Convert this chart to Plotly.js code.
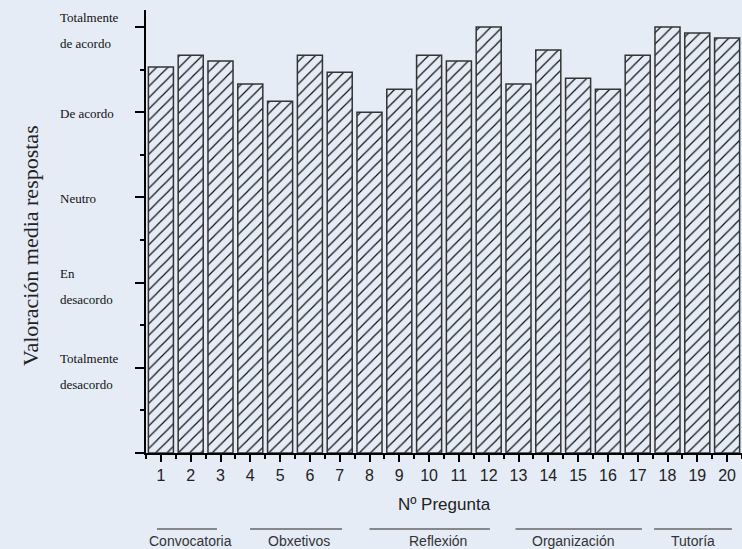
<!DOCTYPE html>
<html>
<head>
<meta charset="utf-8">
<script src="https://cdn.plot.ly/plotly-3.0.1.min.js"></script>
<style>html,body{margin:0;padding:0;background:#E5ECF6;}</style>
</head>
<body>
<div id="chart" style="width:742px;height:549px;"></div>
<script>
// ---- data ----
const questions = [1,2,3,4,5,6,7,8,9,10,11,12,13,14,15,16,17,18,19,20];
const meanScores = [4.53,4.67,4.60,4.33,4.13,4.67,4.47,4.00,4.27,4.67,4.60,5.00,4.33,4.73,4.40,4.27,4.67,5.00,4.93,4.87];
const yTickVals = [5,4,3,2,1];
const yTickText = ["Totalmente<br>de acordo","De acordo","Neutro","En<br>desacordo","Totalmente<br>desacordo"];
const groupNames = ["Convocatoria","Obxetivos","Reflexión","Organización","Tutoría"];
// group underline extents and label centres (axis units, layout only)
const groupLineFrom = [0.87,3.99,8.0,12.9,17.55];
const groupLineTo   = [2.88,7.08,12.04,17.14,20.16];
const groupLabelAt  = [1.98,5.65,10.3,14.86,18.84];

const BG = '#E5ECF6';
const plotH = 549 - 10 - 96;

const annotations = [];
// y tick labels (left aligned, serif)
yTickVals.forEach((v,i)=>{
  const lines = yTickText[i].split('<br>');
  const offs = lines.length === 2 ? [9.5,-16.5] : [-1.5];
  lines.forEach((ln,j)=>{
    annotations.push({
      xref:'paper', yref:'y', x:-88/596, y:v, xanchor:'left', yanchor:'middle',
      yshift: offs[j], text: ln, showarrow:false, align:'left',
      font:{family:'Liberation Serif', size:13, color:'#111'}
    });
  });
});
// y axis title
annotations.push({
  xref:'paper', yref:'paper', x:-116/596, y:(453-246)/plotH, xanchor:'center', yanchor:'middle',
  textangle:-90, text:'Valoración media respostas', showarrow:false,
  font:{family:'Liberation Serif', size:22, color:'#222'}
});
// group labels
const shapes = [];
groupNames.forEach((g,i)=>{
  annotations.push({
    xref:'x', yref:'paper', x:groupLabelAt[i], y:-(541-453)/plotH, xanchor:'center', yanchor:'middle',
    text:g, showarrow:false, font:{family:'Liberation Sans', size:14, color:'#333'}
  });
  shapes.push({
    type:'line', xref:'x', yref:'paper', x0:groupLineFrom[i], x1:groupLineTo[i],
    y0:-(529-453)/plotH, y1:-(529-453)/plotH, line:{color:'#666', width:1.5}
  });
});

const trace = {
  type:'bar', x:questions, y:meanScores,
  marker:{
    color:BG,
    line:{color:'#333', width:1.5},
    pattern:{shape:'/', fgcolor:'#111', bgcolor:BG, size:8, solidity:0.15}
  },
  hoverinfo:'x+y'
};

const layout = {
  width:742, height:549,
  paper_bgcolor:BG, plot_bgcolor:BG,
  margin:{l:146, r:0, t:10, b:96},
  bargap:0.16,
  showlegend:false,
  xaxis:{
    range:[0.5,20.5], tickmode:'array', tickvals:questions, ticktext:questions.map(String),
    ticks:'outside', ticklen:7, tickwidth:1.5, tickcolor:'#000',
    showline:true, linewidth:1.5, linecolor:'#000', showgrid:false, zeroline:false,
    tickfont:{family:'Liberation Sans', size:16, color:'#222'},
    minor:{ticks:'outside', ticklen:4, tickwidth:1.5, tickcolor:'#000', tickmode:'linear', tick0:0.5, dtick:1, showgrid:false},
    title:{text:'Nº Pregunta', font:{family:'Liberation Sans', size:17, color:'#222'}, standoff:15}
  },
  yaxis:{
    range:[0,5.2], tickmode:'array', tickvals:[0,1,2,3,4,5], showticklabels:false,
    ticks:'outside', ticklen:9, tickwidth:1.5, tickcolor:'#000',
    showline:true, linewidth:2, linecolor:'#000', showgrid:false, zeroline:false,
    minor:{ticks:'outside', ticklen:4, tickwidth:1.5, tickcolor:'#000', tickmode:'linear', tick0:0.5, dtick:1, showgrid:false}
  },
  annotations:annotations,
  shapes:shapes
};

Plotly.newPlot('chart', [trace], layout, {displayModeBar:false, responsive:false});
</script>
</body>
</html>
